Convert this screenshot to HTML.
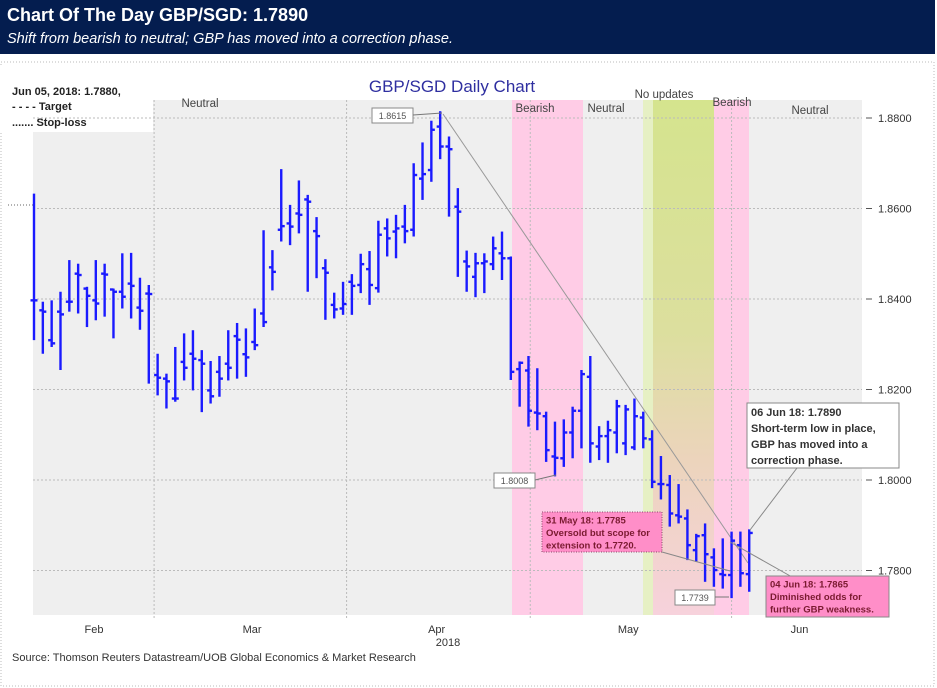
<!DOCTYPE html>
<html><head><meta charset="utf-8"><style>
body{margin:0;width:937px;height:688px;background:#fff;font-family:"Liberation Sans",sans-serif;overflow:hidden;position:relative}
#hdr{position:absolute;left:0;top:0;width:935px;height:54px;background:#041d4f;color:#fff}
#hdr .t{position:absolute;left:7px;top:5px;font-weight:bold;font-size:18px}
#hdr .s{position:absolute;left:7px;top:31px;font-style:italic;font-size:14.5px}
svg{position:absolute;left:0;top:0}
</style></head><body>
<div id="hdr">
<div class="t">Chart Of The Day GBP/SGD: 1.7890</div>
<div class="s">Shift from bearish to neutral; GBP has moved into a correction phase.</div>
</div>
<svg id="c" width="937" height="688"></svg>
<script>
const highs=[1.8633,1.8394,1.8397,1.8416,1.8486,1.8478,1.8427,1.8486,1.8478,1.8423,1.8501,1.8502,1.8447,1.8431,1.8279,1.8235,1.8294,1.8324,1.8331,1.8287,1.8263,1.8274,1.8331,1.8347,1.8335,1.8379,1.8552,1.8508,
1.8687,1.8608,1.8662,1.8630,1.8581,1.8488,1.8414,1.8438,1.8455,1.8500,1.8506,1.8573,1.8578,1.8586,1.8608,1.8700,1.8746,1.8794,1.8815,1.8759,1.8645,1.8507,1.8502,1.8501,1.8538,1.8549,1.8494,
1.8262,1.8274,1.8247,1.8151,1.8129,1.8134,1.8162,1.8243,1.8274,1.8119,1.8131,1.8177,1.8166,1.8180,1.8151,1.8110,1.8053,1.8011,1.7991,1.7935,1.7881,1.7904,1.7849,1.7871,1.7886,1.7886,1.7891];
const lows=[1.8309,1.8279,1.8294,1.8243,1.8372,1.8368,1.8338,1.8353,1.8361,1.8313,1.8379,1.8357,1.8332,1.8213,1.8187,1.8158,1.8173,1.8220,1.8198,1.8150,1.8169,1.8184,1.8220,1.8224,1.8228,1.8287,1.8338,1.8419,
1.8527,1.8519,1.8545,1.8416,1.8446,1.8354,1.8357,1.8365,1.8365,1.8413,1.8387,1.8414,1.8494,1.8490,1.8523,1.8538,1.8619,1.8659,1.8709,1.8582,1.8449,1.8416,1.8404,1.8413,1.8464,1.8442,1.8221,
1.8162,1.8118,1.8110,1.8040,1.8008,1.8029,1.8048,1.8070,1.8038,1.8044,1.8038,1.8059,1.8055,1.8066,1.8070,1.7982,1.7957,1.7897,1.7904,1.7823,1.7819,1.7775,1.7764,1.7760,1.7739,1.7764,1.7753];
const opens=[1.8397,1.8375,1.8309,1.8372,1.8394,1.8456,1.8423,1.8397,1.8456,1.8421,1.8416,1.8434,1.8381,1.8412,1.8232,1.8224,1.8180,1.8261,1.8279,1.8265,1.8198,1.8239,1.8257,1.8318,1.8278,1.8305,1.8368,1.8470,
1.8553,1.8567,1.8589,1.8620,1.8550,1.8468,1.8387,1.8379,1.8438,1.8431,1.8466,1.8424,1.8556,1.8549,1.8560,1.8553,1.8666,1.8685,1.8781,1.8737,1.8604,1.8483,1.8449,1.8479,1.8477,1.8501,1.8490,
1.8245,1.8242,1.8149,1.8141,1.8052,1.8048,1.8105,1.8153,1.8228,1.8074,1.8097,1.8105,1.8081,1.8072,1.8138,1.8090,1.7991,1.7989,1.7922,1.7915,1.7845,1.7878,1.7829,1.7792,1.7790,1.7856,1.7792];
const closes=[1.8397,1.8372,1.8302,1.8366,1.8394,1.8453,1.8407,1.8390,1.8454,1.8416,1.8405,1.8429,1.8374,1.8411,1.8226,1.8218,1.8180,1.8248,1.8268,1.8257,1.8185,1.8224,1.8248,1.8310,1.8271,1.8298,1.8349,1.8460,
1.8561,1.8560,1.8586,1.8615,1.8539,1.8458,1.8377,1.8389,1.8429,1.8477,1.8431,1.8542,1.8534,1.8556,1.8550,1.8674,1.8676,1.8774,1.8737,1.8731,1.8593,1.8472,1.8479,1.8483,1.8512,1.8490,1.8239,
1.8259,1.8153,1.8147,1.8066,1.8049,1.8105,1.8153,1.8234,1.8081,1.8097,1.8110,1.8163,1.8156,1.8141,1.8092,1.7996,1.7991,1.7926,1.7919,1.7856,1.7876,1.7836,1.7801,1.7790,1.7866,1.7794,1.7883];
const yTicks=[1.88,1.86,1.84,1.82,1.80,1.78];
const yTickLabels=["1.8800","1.8600","1.8400","1.8200","1.8000","1.7800"];
const monthLabels=["Feb","Mar","Apr","May","Jun"];
const monthCenters=[6.8,24.7,45.6,67.3,86.7];   // bar-index positions of month labels
const monthStarts=[13.6,35.4,56.2,79.0];  // bar-index positions of month boundaries

const NS="http://www.w3.org/2000/svg";
const svg=document.getElementById('c');
const X0=34,DX=8.83;
function xs(i){return X0+i*DX;}
function ys(p){return 118+(1.88-p)*4525;}
function el(tag,attrs,parent){const e=document.createElementNS(NS,tag);for(const k in attrs)e.setAttribute(k,attrs[k]);(parent||svg).appendChild(e);return e;}
function txt(x,y,s,attrs){const t=el('text',Object.assign({x:x,y:y},attrs||{}));t.textContent=s;return t;}

let e=el('rect',{x:1,y:62,width:933,height:624,fill:'none',stroke:'#bbb','stroke-dasharray':'1,2'});


e=el('rect',{x:33,y:100,width:829,height:515,fill:'#efefef'});


e=el('rect',{x:0,y:65,width:153,height:67,fill:'#fff'});


const defs=el('defs',{});
const g=el('linearGradient',{id:'gg',x1:0,y1:0,x2:0,y2:1},defs);
el('stop',{offset:'0','stop-color':'#d5e48e'},g);el('stop',{offset:'0.45','stop-color':'#dcdf9e'},g);el('stop',{offset:'0.7','stop-color':'#ecd4bc'},g);el('stop',{offset:'1','stop-color':'#f7d2dc'},g);
e=el('rect',{x:512,y:100,width:71,height:515,fill:'#ffcce6'});


e=el('rect',{x:643,y:100,width:10,height:515,fill:'#e6f0c4'});


e=el('rect',{x:653,y:100,width:61,height:515,fill:'url(#gg)'});


e=el('rect',{x:714,y:100,width:35,height:515,fill:'#ffcce6'});


yTicks.forEach((v,i)=>{
 const y=ys(v);
 let l=el('line',{x1:33,x2:862,y1:y,y2:y,stroke:'#bbb','stroke-dasharray':'2,2'});
 
 
 let t=el('line',{x1:866,x2:872,y1:y,y2:y,stroke:'#555'});
 
 
 let tl=txt(878,y+4,yTickLabels[i],{'font-size':11,fill:'#333'});
 
 
});
monthStarts.forEach(m=>{
 const x=xs(m);
 let l=el('line',{x1:x,x2:x,y1:100,y2:620,stroke:'#bbb','stroke-dasharray':'2,2'});
 
 
});
monthLabels.forEach((m,i)=>{
 let t=txt(xs(monthCenters[i]),633,m,{'font-size':11,fill:'#333','text-anchor':'middle'});
 
 
});
e=txt(448,646,'2018',{'font-size':11,fill:'#333','text-anchor':'middle'});


[[200,107,'Neutral'],[535,112,'Bearish'],[606,112,'Neutral'],[664,98,'No updates'],[732,106,'Bearish'],[810,114,'Neutral']].forEach(a=>{
 let t=txt(a[0],a[1],a[2],{'font-size':11.5,fill:'#444','text-anchor':'middle'});
 
 
});
e=txt(452,92,'GBP/SGD Daily Chart',{'font-size':17,fill:'#2f2fa0','text-anchor':'middle'});


e=txt(12,95,'Jun 05, 2018:  1.7880,',{'font-size':11,'font-weight':'bold',fill:'#222','xml:space':'preserve'});


e=txt(12,110,'- - - -    Target',{'font-size':11,'font-weight':'bold',fill:'#222','xml:space':'preserve'});


e=txt(12,126,'.......    Stop-loss',{'font-size':11,'font-weight':'bold',fill:'#222','xml:space':'preserve'});


e=el('line',{x1:8,x2:33,y1:205,y2:205,stroke:'#666','stroke-dasharray':'1,2'});


e=el('polyline',{points:'443,114 748,563',fill:'none',stroke:'#999','stroke-width':1});


highs.forEach((h,i)=>{
 const x=xs(i);
 const b=el('g',{stroke:'#1a1aff','stroke-width':2.4});
 
 
 el('line',{x1:x,x2:x,y1:ys(h),y2:ys(lows[i])},b);
 el('line',{x1:x-3.5,x2:x,y1:ys(opens[i]),y2:ys(opens[i])},b);
 el('line',{x1:x,x2:x+3.5,y1:ys(closes[i]),y2:ys(closes[i])},b);
});
[['662,552 730,571'],['730,542 792,577'],['797,468 750,530']].forEach(p=>{
 let l=el('polyline',{points:p[0],fill:'none',stroke:'#888'});
 
 
});
function vlabel(x,y,w,s,ax,ay){
 const gg=el('g',{});
 
 
 el('rect',{x:x,y:y,width:w,height:15,fill:'#fff',stroke:'#888'},gg);
 const t=el('text',{x:x+w/2,y:y+11,'font-size':9,fill:'#555','text-anchor':'middle'},gg);t.textContent=s;
 el('line',{x1:x+w,y1:y+7,x2:ax,y2:ay,stroke:'#777'},gg);
}
vlabel(372,108,41,'1.8615',442,113);
vlabel(494,473,41,'1.8008',556,475);
vlabel(675,590,40,'1.7739',729,597);
function box(x,y,w,h,lines,fill,col,stroke,dash,fs,lh,name){
 const gg=el('g',{});
 
 
 const r=el('rect',{x:x,y:y,width:w,height:h,fill:fill,stroke:stroke},gg);
 if(dash)r.setAttribute('stroke-dasharray',dash);
 lines.forEach((s,i)=>{const t=el('text',{x:x+4,y:y+fs+2+i*lh,'font-size':fs,'font-weight':'bold',fill:col},gg);t.textContent=s;});
}
box(542,512,120,40,['31 May 18: 1.7785','Oversold but scope for','extension to 1.7720.'],'#ff8ec8','#7a1a30','#8a4a6a','1,1.5',9.5,12.5,'annotation-31-may');
box(747,403,152,65,['06 Jun 18: 1.7890','Short-term low in place,','GBP has moved into a','correction phase.'],'#fff','#333','#888',null,11,16,'annotation-06-jun');
box(766,576,123,41,['04 Jun 18: 1.7865','Diminished odds for','further GBP weakness.'],'#ff8ec8','#7a1a30','#888',null,9.5,12.5,'annotation-04-jun');
e=txt(12,661,'Source: Thomson Reuters Datastream/UOB Global Economics & Market Research',{'font-size':11,fill:'#333'});


</script>
</body></html>
